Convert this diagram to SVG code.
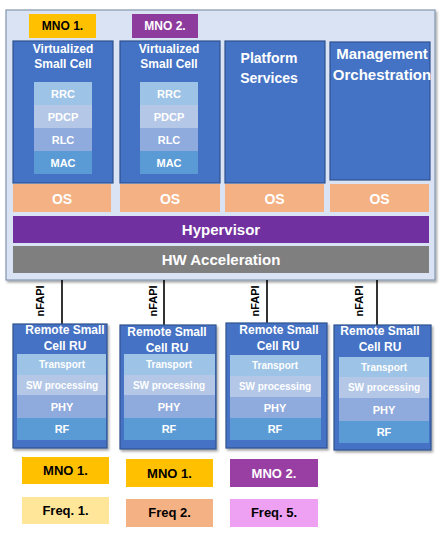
<svg xmlns="http://www.w3.org/2000/svg" width="444" height="533" viewBox="0 0 444 533">
<defs>
<filter id="sh" x="-10%" y="-10%" width="130%" height="130%">
<feDropShadow dx="1.5" dy="2" stdDeviation="1.2" flood-color="#000" flood-opacity="0.35"/>
</filter>
<style>
text{font-family:"Liberation Sans",Arial,sans-serif;font-weight:bold;text-anchor:middle}
.w{fill:#fff}
.k{fill:#000}
.blue{fill:#4472c4;stroke:#2f528f;stroke-width:1.2}
.l1{fill:#9dc3e6}
.l2{fill:#b4c7e7}
.l3{fill:#8faadc}
.l4{fill:#5b9bd5}
.os{fill:#f4b183}
.t11{font-size:11px}
.t12{font-size:12px}
.t10{font-size:10px}
.t13{font-size:13px}
.t14{font-size:14px}
.t15{font-size:15px}
.link{stroke:#000;stroke-width:1.6;fill:none}
</style>
</defs>
<rect width="444" height="533" fill="#fff"/>

<g id="server">
<rect x="6" y="10" width="429" height="270" fill="#dae3f3" stroke="#8497b0" stroke-width="1.2" filter="url(#sh)"/>
</g>

<g id="mno1-top">
<rect x="29" y="14" width="67" height="24" fill="#ffc000"/>
<text x="62.5" y="30" class="k t12">MNO 1.</text>
</g>
<g id="mno2-top">
<rect x="132" y="14" width="66" height="24" fill="#8e3b9e"/>
<text x="165" y="30" class="w t12">MNO 2.</text>
</g>

<g id="vsc1">
<rect x="13" y="41" width="100" height="142" class="blue"/>
<text x="63" y="53" class="w t12">Virtualized</text>
<text x="63" y="68" class="w t12">Small Cell</text>
<rect x="34" y="82" width="58" height="23" class="l1"/>
<rect x="34" y="105" width="58" height="23" class="l2"/>
<rect x="34" y="128" width="58" height="23" class="l3"/>
<rect x="34" y="151" width="58" height="23" class="l4"/>
<text x="63" y="98" class="w t11">RRC</text>
<text x="63" y="121" class="w t11">PDCP</text>
<text x="63" y="144" class="w t11">RLC</text>
<text x="63" y="167" class="w t11">MAC</text>
</g>

<g id="vsc2">
<rect x="120" y="41" width="100" height="142" class="blue"/>
<text x="169" y="53" class="w t12">Virtualized</text>
<text x="169" y="68" class="w t12">Small Cell</text>
<rect x="140" y="82" width="58" height="23" class="l1"/>
<rect x="140" y="105" width="58" height="23" class="l2"/>
<rect x="140" y="128" width="58" height="23" class="l3"/>
<rect x="140" y="151" width="58" height="23" class="l4"/>
<text x="169" y="98" class="w t11">RRC</text>
<text x="169" y="121" class="w t11">PDCP</text>
<text x="169" y="144" class="w t11">RLC</text>
<text x="169" y="167" class="w t11">MAC</text>
</g>

<g id="platform">
<rect x="225" y="41" width="100" height="142" class="blue"/>
<text x="269" y="63" class="w t14">Platform</text>
<text x="269" y="83" class="w t14">Services</text>
</g>

<g id="mgmt">
<rect x="330" y="42" width="100" height="138" class="blue"/>
<text x="382" y="59" class="w t15">Management</text>
<text x="382" y="80" class="w t15">Orchestration</text>
</g>

<g id="os1"><rect x="13" y="184" width="98" height="28" class="os"/><text x="62" y="204" class="w t14">OS</text></g>
<g id="os2"><rect x="120" y="184" width="100" height="28" class="os"/><text x="170" y="204" class="w t14">OS</text></g>
<g id="os3"><rect x="225" y="184" width="99" height="28" class="os"/><text x="274.5" y="204" class="w t14">OS</text></g>
<g id="os4"><rect x="330" y="184" width="99" height="28" class="os"/><text x="379.5" y="204" class="w t14">OS</text></g>

<g id="hypervisor">
<rect x="13" y="216" width="416" height="27" fill="#7030a0"/>
<text x="221" y="235" class="w t15">Hypervisor</text>
</g>
<g id="hw">
<rect x="13" y="246" width="416" height="27" fill="#7f7f7f"/>
<text x="221" y="265" class="w t15">HW Acceleration</text>
</g>

<g id="connectors">
<line x1="62" y1="280" x2="62" y2="324" class="link"/>
<line x1="164" y1="280" x2="164" y2="325" class="link"/>
<line x1="267" y1="280" x2="267" y2="323" class="link"/>
<line x1="377" y1="280" x2="377" y2="325" class="link"/>
<text transform="translate(44,301) rotate(-90)" class="k t11">nFAPI</text>
<text transform="translate(157,301) rotate(-90)" class="k t11">nFAPI</text>
<text transform="translate(259,301) rotate(-90)" class="k t11">nFAPI</text>
<text transform="translate(363,301) rotate(-90)" class="k t11">nFAPI</text>
</g>

<g id="ru1">
<rect x="13" y="324" width="94" height="124" class="blue" filter="url(#sh)"/>
<text x="65" y="334" class="w t12">Remote Small</text>
<text x="65" y="350" class="w t12">Cell RU</text>
<rect x="17" y="354" width="89" height="21" class="l1"/>
<rect x="17" y="375" width="89" height="20" class="l2"/>
<rect x="17" y="395" width="89" height="23" class="l3"/>
<rect x="17" y="418" width="89" height="22" class="l4"/>
<text x="62" y="368" class="w t10">Transport</text>
<text x="62" y="389" class="w t10">SW processing</text>
<text x="62" y="411" class="w t11">PHY</text>
<text x="62" y="433" class="w t11">RF</text>
</g>

<g id="ru2">
<rect x="120" y="325" width="96" height="124" class="blue" filter="url(#sh)"/>
<text x="167" y="336" class="w t12">Remote Small</text>
<text x="167" y="352" class="w t12">Cell RU</text>
<rect x="124" y="354" width="91" height="21" class="l1"/>
<rect x="124" y="375" width="91" height="20" class="l2"/>
<rect x="124" y="395" width="91" height="23" class="l3"/>
<rect x="124" y="418" width="91" height="22" class="l4"/>
<text x="169" y="368" class="w t10">Transport</text>
<text x="169" y="389" class="w t10">SW processing</text>
<text x="169" y="411" class="w t11">PHY</text>
<text x="169" y="433" class="w t11">RF</text>
</g>

<g id="ru3">
<rect x="226" y="323" width="101" height="125" class="blue" filter="url(#sh)"/>
<text x="279" y="334" class="w t12">Remote Small</text>
<text x="278" y="350" class="w t12">Cell RU</text>
<rect x="230" y="355" width="91" height="21" class="l1"/>
<rect x="230" y="376" width="91" height="21" class="l2"/>
<rect x="230" y="397" width="91" height="21" class="l3"/>
<rect x="230" y="418" width="91" height="22" class="l4"/>
<text x="275" y="369" class="w t10">Transport</text>
<text x="275" y="390" class="w t10">SW processing</text>
<text x="275" y="412" class="w t11">PHY</text>
<text x="275" y="433" class="w t11">RF</text>
</g>

<g id="ru4">
<rect x="334" y="325" width="97" height="125" class="blue" filter="url(#sh)"/>
<text x="380" y="335" class="w t12">Remote Small</text>
<text x="380" y="351" class="w t12">Cell RU</text>
<rect x="339" y="357" width="90" height="20" class="l1"/>
<rect x="339" y="377" width="90" height="21" class="l2"/>
<rect x="339" y="398" width="90" height="23" class="l3"/>
<rect x="339" y="421" width="90" height="22" class="l4"/>
<text x="384" y="371" class="w t10">Transport</text>
<text x="384" y="391" class="w t10">SW processing</text>
<text x="384" y="414" class="w t11">PHY</text>
<text x="384" y="436" class="w t11">RF</text>
</g>

<g id="leg-mno1a"><rect x="22" y="457" width="87" height="27" fill="#ffc000"/><text x="65.5" y="475" class="k t13">MNO 1.</text></g>
<g id="leg-mno1b"><rect x="126" y="459" width="87" height="28" fill="#ffc000"/><text x="169.5" y="478" class="k t13">MNO 1.</text></g>
<g id="leg-mno2"><rect x="230" y="459" width="88" height="28" fill="#993ea3"/><text x="274" y="478" class="w t13">MNO 2.</text></g>
<g id="leg-f1"><rect x="22" y="497" width="87" height="27" fill="#ffe699"/><text x="65.5" y="515" class="k t13">Freq. 1.</text></g>
<g id="leg-f2"><rect x="126" y="499" width="87" height="28" fill="#f4b183"/><text x="169.5" y="517" class="k t13">Freq 2.</text></g>
<g id="leg-f5"><rect x="230" y="499" width="88" height="28" fill="#eea0f2"/><text x="274" y="517" class="k t13">Freq. 5.</text></g>
</svg>
